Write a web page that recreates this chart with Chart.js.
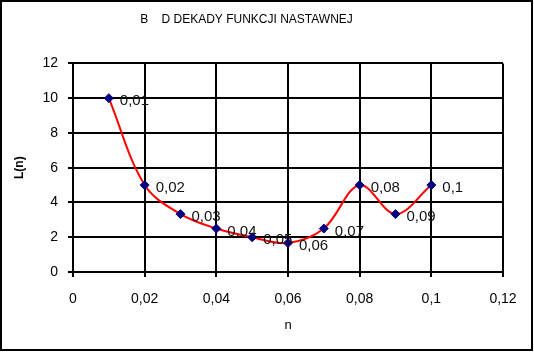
<!DOCTYPE html>
<html lang="pl">
<head>
<meta charset="UTF-8">
<title>Blad dekady funkcji nastawnej</title>
<script src="https://cdn.jsdelivr.net/npm/chart.js@4.4.0/dist/chart.umd.min.js"></script>
<style>
  html, body { margin: 0; padding: 0; background: #fff; }
  #wrap { width: 534px; height: 352px; }
</style>
</head>
<body>
<div id="wrap"><canvas id="chart" width="534" height="352"></canvas></div>
<script>
// data
const nValues = [0.01, 0.02, 0.03, 0.04, 0.05, 0.06, 0.07, 0.08, 0.09, 0.1];
const lValues = [10, 5, 3.33, 2.5, 2, 1.67, 2.5, 5, 3.33, 5];
const pointLabels = ["0,01", "0,02", "0,03", "0,04", "0,05", "0,06", "0,07", "0,08", "0,09", "0,1"];
const xTickLabels = ["0", "0,02", "0,04", "0,06", "0,08", "0,1", "0,12"];
const yTickLabels = ["0", "2", "4", "6", "8", "10", "12"];

const FONT = "'Liberation Sans', Arial, sans-serif";

// outer frame round the whole picture
const framePlugin = {
  id: 'frame',
  afterDraw(chart) {
    const ctx = chart.ctx;
    ctx.save();
    ctx.strokeStyle = '#000';
    ctx.lineWidth = 2;
    ctx.strokeRect(1, 1, 531, 349);
    ctx.restore();
  }
};

// "0,01" style labels next to each point
const pointLabelPlugin = {
  id: 'pointLabels',
  afterDatasetsDraw(chart) {
    const ctx = chart.ctx;
    const meta = chart.getDatasetMeta(0);
    ctx.save();
    ctx.font = '15px ' + FONT;
    ctx.fillStyle = '#111';
    ctx.textAlign = 'left';
    ctx.textBaseline = 'middle';
    meta.data.forEach((pt, i) => {
      ctx.fillText(pointLabels[i], pt.x + 11, pt.y + 3);
    });
    ctx.restore();
  }
};

const ctx = document.getElementById('chart').getContext('2d');
const chart = new Chart(ctx, {
  type: 'line',
  data: {
    datasets: [{
      data: nValues.map((n, i) => ({ x: n, y: lValues[i] })),
      borderColor: '#ff0000',
      borderWidth: 2,
      tension: 0.35,
      pointStyle: 'rectRot',
      pointRadius: 4.5,
      pointBackgroundColor: '#000080',
      pointBorderColor: '#000080',
      pointBorderWidth: 1
    }]
  },
  options: {
    responsive: false,
    animation: false,
    layout: { padding: { left: 0, right: 31, top: 0, bottom: 0 } },
    plugins: {
      legend: { display: false },
      tooltip: { enabled: false },
      title: {
        display: true,
        text: 'B    D DEKADY FUNKCJI NASTAWNEJ   ',
        color: '#000',
        font: { family: FONT, size: 12, weight: 'normal' },
        padding: { top: 12, bottom: 37 }
      }
    },
    scales: {
      x: {
        type: 'linear',
        min: 0,
        max: 0.12,
        afterFit(scale) { scale.height = 80; },
        afterBuildTicks(scale) {
          scale.ticks = xTickLabels.map((t, i) => ({ value: i * 0.02 }));
        },
        ticks: {
          color: '#000',
          font: { family: FONT, size: 14 },
          padding: 14,
          maxRotation: 0,
          callback: (v, i) => xTickLabels[i]
        },
        grid: { color: '#000', lineWidth: 2, tickLength: 5, tickColor: '#000', tickWidth: 2 },
        border: { color: '#000', width: 2 },
        title: {
          display: true,
          text: 'n',
          color: '#000',
          font: { family: FONT, size: 13 },
          padding: { top: 0, bottom: 19 }
        }
      },
      y: {
        type: 'linear',
        min: 0,
        max: 12,
        afterFit(scale) { scale.width = 73; },
        afterBuildTicks(scale) {
          scale.ticks = yTickLabels.map((t, i) => ({ value: i * 2 }));
        },
        ticks: {
          color: '#000',
          font: { family: FONT, size: 14 },
          padding: 10,
          callback: (v, i) => yTickLabels[i]
        },
        grid: { color: '#000', lineWidth: 2, tickLength: 5, tickColor: '#000', tickWidth: 2 },
        border: { color: '#000', width: 2 },
        title: {
          display: true,
          text: 'L(n)',
          color: '#000',
          font: { family: FONT, size: 12, weight: 'bold' },
          padding: { top: 12, bottom: 0 }
        }
      }
    }
  },
  plugins: [framePlugin, pointLabelPlugin]
});
</script>
</body>
</html>
